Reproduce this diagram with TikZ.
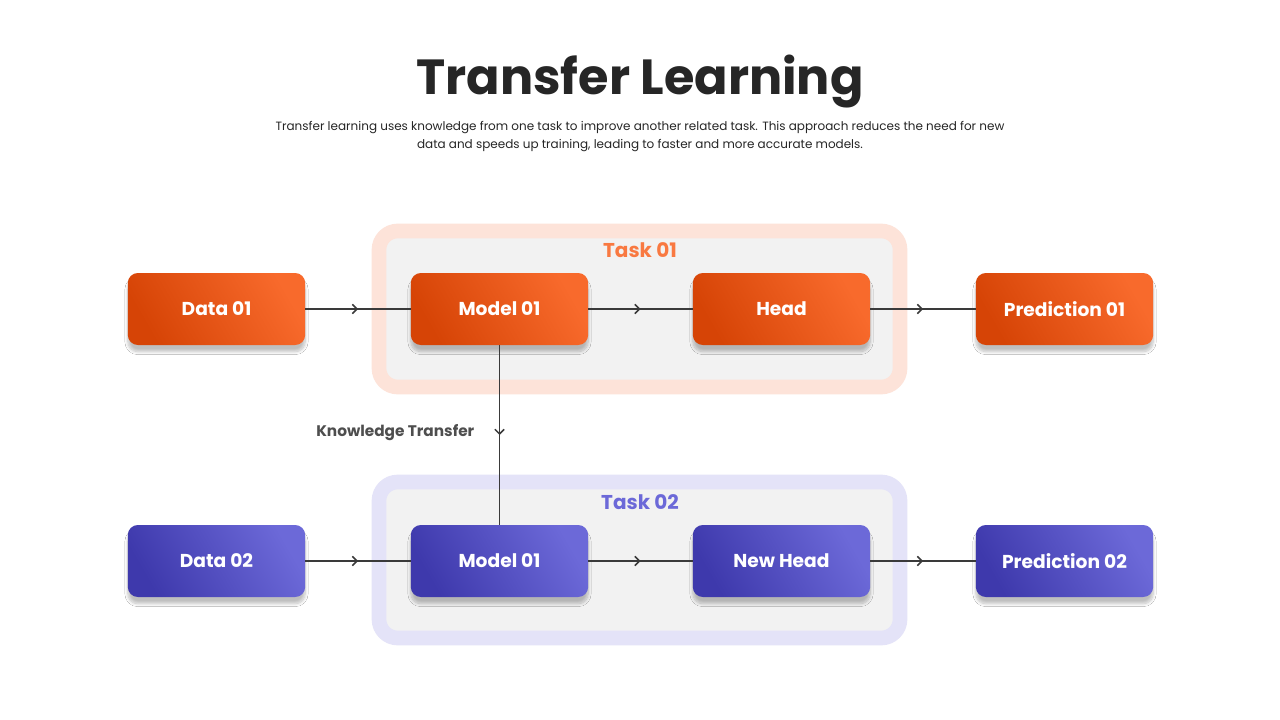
\documentclass[tikz,border=0pt]{standalone}
\usepackage{fontspec}
\setmainfont{Poppins}
\usetikzlibrary{arrows.meta,decorations.markings,shadows.blur}
\definecolor{orA}{HTML}{F86A2C}
\definecolor{orB}{HTML}{D64406}
\definecolor{blA}{HTML}{6C69D8}
\definecolor{blB}{HTML}{3E39AC}
\definecolor{txt}{HTML}{262626}
\definecolor{ln}{HTML}{3A3A3A}
\definecolor{orBg}{HTML}{FDE3D9}
\definecolor{blBg}{HTML}{E4E3F8}
\definecolor{gr}{HTML}{F2F2F2}
\begin{document}
\begin{tikzpicture}[x=0.75pt,y=-0.75pt,
  box/.style={rounded corners=7.5pt,minimum width=133pt,minimum height=54pt,text=white,font=\bfseries\fontsize{14}{16}\selectfont,
    blur shadow={shadow xshift=0pt,shadow yshift=-5pt,shadow opacity=25,shadow blur steps=8}},
  obox/.style={box,left color=orA,right color=orB,shading angle=-60,shading=axis},
  bbox/.style={box,left color=blA,right color=blB,shading angle=-60,shading=axis},
  conn/.style={draw=ln,line width=1.1pt,postaction={decorate},decoration={markings,mark=at position 0.5 with {\arrow{Straight Barb[length=3.5pt,width=7pt]}}}},
  grp/.style={rounded corners=14pt,fill=gr,line width=11pt}]
\useasboundingbox (0,0) rectangle (1280,720);
\fill[white] (0,0) rectangle (1280,720);
\node[font=\bfseries\fontsize{37}{40}\selectfont,text=txt] (title) at (640,82) {Transfer Learning};
\node[font=\fontsize{9}{13.5}\selectfont,text=txt,align=center] (sub) at (640,137) {Transfer learning uses knowledge from one task to improve another related task. This approach reduces the need for new\\data and speeds up training, leading to faster and more accurate models.};
\draw[grp,draw=orBg] (379,231) rectangle (900,387);
\draw[grp,draw=blBg] (379,482) rectangle (900,638);
\node[font=\bfseries\fontsize{15}{18}\selectfont,text=orA!90!white] (t1) at (640,250) {Task 01};
\node[font=\bfseries\fontsize{15}{18}\selectfont,text=blA] (t2) at (640,502) {Task 02};
\node[obox] (d1) at (216.5,309) {Data 01};
\node[obox] (m1) at (499.5,309) {Model 01};
\node[obox] (h1) at (781.5,309) {Head};
\node[obox] (p1) at (1064.5,309) {Prediction 01};
\node[bbox] (d2) at (216.5,561) {Data 02};
\node[bbox] (m2) at (499.5,561) {Model 01};
\node[bbox] (h2) at (781.5,561) {New Head};
\node[bbox] (p2) at (1064.5,561) {Prediction 02};
\path[conn] (d1) -- (m1);
\path[conn] (m1) -- (h1);
\path[conn] (h1) -- (p1);
\path[conn] (d2) -- (m2);
\path[conn] (m2) -- (h2);
\path[conn] (h2) -- (p2);
\path[conn] (m1) -- (m2);
\node[font=\bfseries\fontsize{11.5}{14}\selectfont,text=ln!90!white,anchor=east] (kt) at (479,433) {Knowledge Transfer};
\end{tikzpicture}
\end{document}
